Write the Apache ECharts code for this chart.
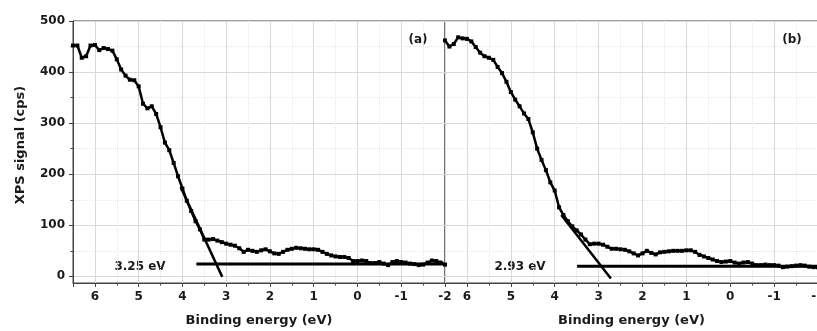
<!DOCTYPE html>
<html><head><meta charset="utf-8">
<script src="https://cdn.jsdelivr.net/npm/echarts@6/dist/echarts.min.js"></script>
<style>html,body{margin:0;padding:0;background:#fff}#c{width:817px;height:331px}</style>
</head><body><div id="c"></div><script>
// Binding energy (eV), same sampling for both panels
const energy = [
  6.5,6.4,6.3,6.2,6.1,6.0,5.9,5.8,5.7,5.6,
  5.5,5.4,5.3,5.2,5.1,5.0,4.9,4.8,4.7,4.6,
  4.5,4.4,4.3,4.2,4.1,4.0,3.9,3.8,3.7,3.6,
  3.5,3.4,3.3,3.2,3.1,3.0,2.9,2.8,2.7,2.6,
  2.5,2.4,2.3,2.2,2.1,2.0,1.9,1.8,1.7,1.6,
  1.5,1.4,1.3,1.2,1.1,1.0,0.9,0.8,0.7,0.6,
  0.5,0.4,0.3,0.2,0.1,0.0,-0.1,-0.2,-0.3,-0.4,
  -0.5,-0.6,-0.7,-0.8,-0.9,-1.0,-1.1,-1.2,-1.3,-1.4,
  -1.5,-1.6,-1.7,-1.8,-1.9,-2.0
];
// Panel (a) XPS signal (cps)
const signalA = [
  452,452,428,431,452,453,443,447,445,442,
  425,405,393,385,384,372,338,329,333,318,
  292,262,247,222,196,172,148,128,108,92,
  72,72,73,70,67,64,62,60,55,48,
  52,50,48,51,53,49,45,44,48,52,
  54,56,55,54,53,53,52,48,44,41,
  39,38,38,36,30,30,31,30,26,26,
  28,25,22,28,30,28,27,25,24,22,
  23,27,31,30,27,23
];
// Panel (b) XPS signal (cps)
const signalB = [
  462,450,455,468,466,465,460,449,438,431,
  428,424,410,398,381,361,346,333,319,308,
  282,250,228,208,184,168,135,120,108,98,
  90,82,72,63,64,64,62,58,54,54,
  53,52,49,45,41,45,50,46,43,47,
  48,49,50,50,50,51,51,48,42,39,
  36,33,30,28,29,30,27,25,27,28,
  25,22,22,23,22,22,21,18,19,20,
  21,22,21,19,18,18
];
// Linear extrapolation (tangent) and baseline lines
const tangentA = [[4.04,175],[3.09,-1]];
const baselineA = [[3.68,24],[-2,24]];
const tangentB = [[3.85,120],[2.72,-4]];
const baselineB = [[3.49,20],[-2,20]];
const yTickValues = [0,100,200,300,400,500];
const panelLabels = ['(a)','(b)'];
const gapLabels = ['3.25 eV','2.93 eV'];

const FONT = 'DejaVu Sans';
const TXT = '#1a1a1a';
const AX = '#444';

function xAxisFor(i){
  return {
    type:'value', gridIndex:i, min:-2, max:6.5, interval:1, inverse:true,
    name:'Binding energy (eV)', nameLocation:'middle', nameGap:31,
    nameTextStyle:{fontFamily:FONT, fontWeight:'bold', fontSize:13, color:TXT},
    axisLine:{show:true, onZero:false, lineStyle:{color:AX, width:1}},
    axisTick:{show:true, length:4, lineStyle:{color:AX}},
    minorTick:{show:true, splitNumber:2, length:2.5, lineStyle:{color:AX}},
    axisLabel:{showMaxLabel:false, fontFamily:FONT, fontWeight:'bold', fontSize:12, color:TXT, margin:8},
    splitLine:{show:true, lineStyle:{color:'#d9d9d9', width:1}},
    minorSplitLine:{show:true, lineStyle:{color:'#e6e6e6', width:1, type:'dotted'}}
  };
}
function yAxisFor(i){
  return {
    type:'value', gridIndex:i, min:-13, max:500, splitNumber:5,
    name: i===0 ? 'XPS signal (cps)' : '', nameLocation:'middle', nameGap:46,
    nameTextStyle:{fontFamily:FONT, fontWeight:'bold', fontSize:13, color:TXT, padding:[0,0,0,14]},
    axisLine:{show:i===0, onZero:false, lineStyle:{color:AX, width:1}},
    axisTick:{show:i===0, length:4, lineStyle:{color:AX}, customValues:yTickValues},
    minorTick:{show:i===0, splitNumber:2, length:2.5, lineStyle:{color:AX}},
    axisLabel:{show:i===0, customValues:yTickValues, fontFamily:FONT, fontWeight:'bold', fontSize:12, color:TXT, margin:8},
    splitLine:{show:true, lineStyle:{color:'#d9d9d9', width:1}},
    minorSplitLine:{show:true, lineStyle:{color:'#e6e6e6', width:1, type:'dotted'}}
  };
}
function dataSeries(i, vals){
  return {
    type:'line', xAxisIndex:i, yAxisIndex:i,
    data: energy.map((e,k)=>[e, vals[k]]),
    symbol:'rect', symbolSize:4, showSymbol:true,
    lineStyle:{color:'#000', width:2.5}, itemStyle:{color:'#000'},
    z:4, silent:true
  };
}
function lineSeries(i, pts, w){
  return {
    type:'line', xAxisIndex:i, yAxisIndex:i, data:pts, symbol:'none',
    lineStyle:{color:'#000', width:w}, z:5, silent:true, clip:false
  };
}

const chart = echarts.init(document.getElementById('c'), null, {renderer:'canvas'});
chart.setOption({
  animation:false,
  backgroundColor:'#fff',
  grid:[
    {left:73, top:21, width:372, height:262, show:true, borderColor:AX, borderWidth:1, backgroundColor:'transparent', outerBoundsMode:'none', containLabel:false},
    {left:445, top:21, width:373, height:262, show:true, borderColor:AX, borderWidth:1, backgroundColor:'transparent', outerBoundsMode:'none', containLabel:false}
  ],
  xAxis:[xAxisFor(0), xAxisFor(1)],
  yAxis:[yAxisFor(0), yAxisFor(1)],
  series:[
    dataSeries(0, signalA),
    lineSeries(0, tangentA, 2.5),
    lineSeries(0, baselineA, 3),
    dataSeries(1, signalB),
    lineSeries(1, tangentB, 2.5),
    lineSeries(1, baselineB, 3)
  ],
  graphic:[
    {type:'text', x:418, y:40, style:{text:panelLabels[0], fill:TXT, font:'bold 12px "DejaVu Sans"', align:'center', verticalAlign:'middle'}},
    {type:'text', x:792, y:40, style:{text:panelLabels[1], fill:TXT, font:'bold 12px "DejaVu Sans"', align:'center', verticalAlign:'middle'}},
    {type:'text', x:140, y:267, style:{text:gapLabels[0], fill:TXT, font:'bold 12px "DejaVu Sans"', align:'center', verticalAlign:'middle'}},
    {type:'text', x:520, y:267, style:{text:gapLabels[1], fill:TXT, font:'bold 12px "DejaVu Sans"', align:'center', verticalAlign:'middle'}}
  ]
});
</script></body></html>
